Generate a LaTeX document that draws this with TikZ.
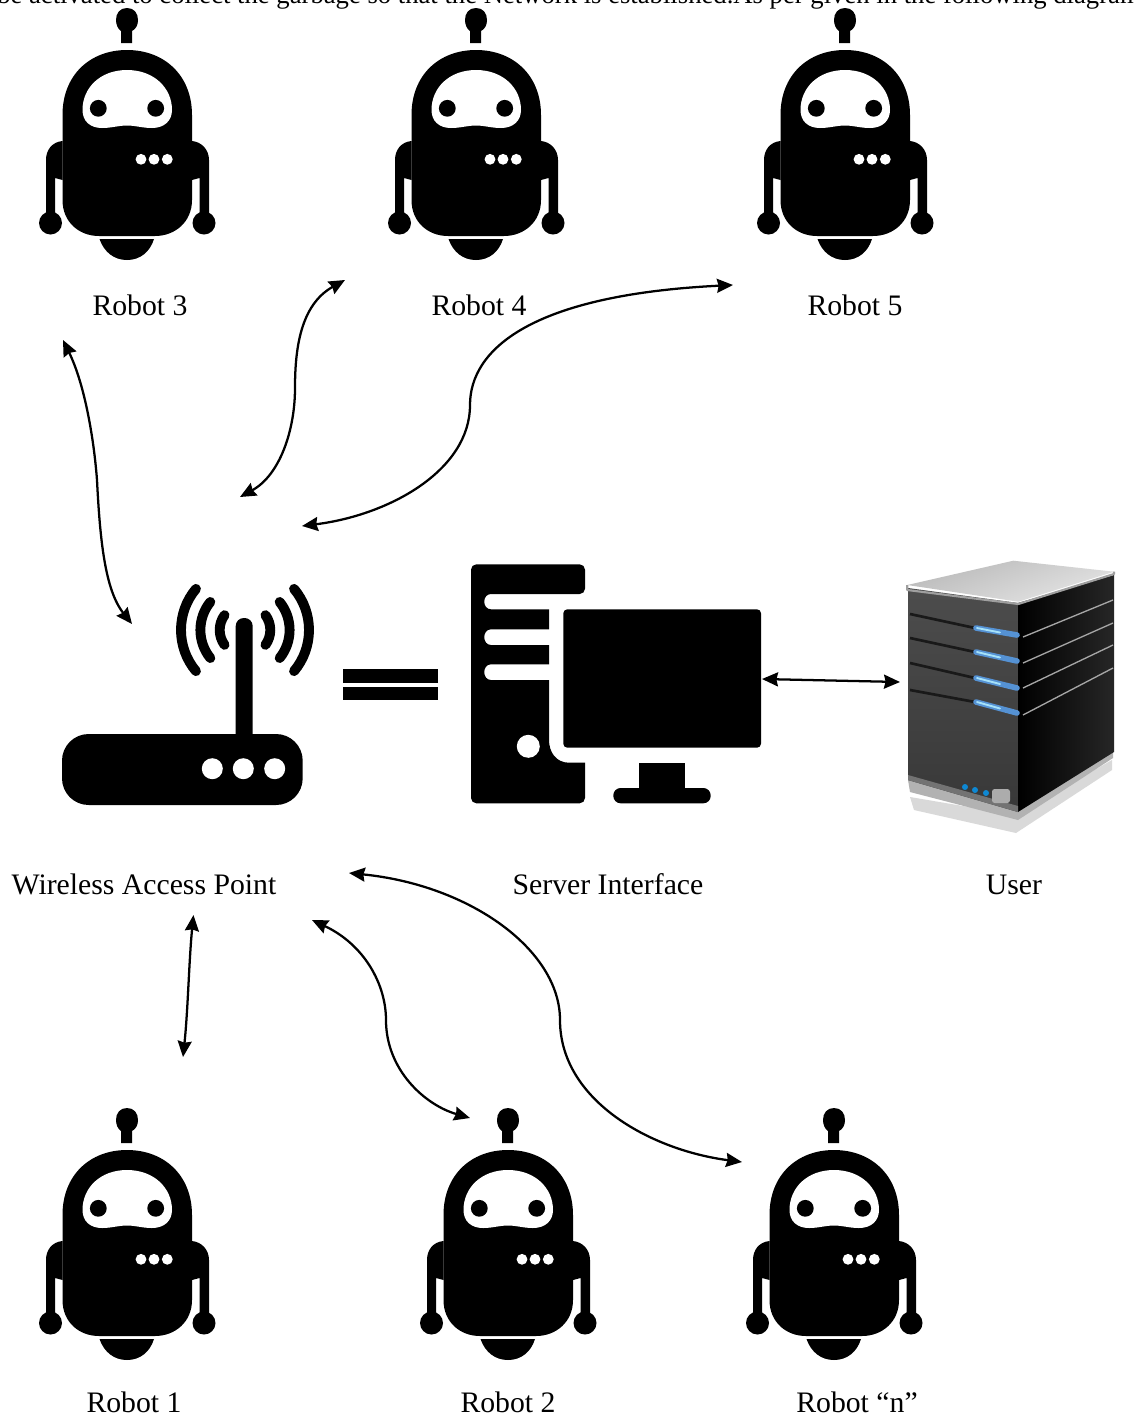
\documentclass[tikz,border=0pt]{standalone}
\usepackage{fontspec}
\setmainfont{Liberation Serif}
\usetikzlibrary{arrows.meta}
\tikzset{
  px/.style={x=0.75pt,y=-0.75pt},
  lbl/.style={font=\fontsize{22.3}{26}\selectfont,inner sep=0pt,anchor=base},
  link/.style={draw=black,line width=1.7pt,{Stealth[length=12pt,width=10.5pt,inset=1.2pt]}-{Stealth[length=12pt,width=10.5pt,inset=1.2pt]}},
  wave/.style={draw=black,line width=7.4pt,line cap=round},
  robot/.pic={
    \fill[black] (127,8) .. controls (120,8) and (116,13) .. (116,20) .. controls (116,25) and (118,29) .. (121,31) -- (121,43) -- (132,43) -- (132,31) .. controls (136,29) and (138,25) .. (138,20) .. controls (138,13) and (134,8) .. (127,8) -- cycle;
    \fill[black] (62.5,115) .. controls (62.5,75) and (90,50) .. (127,50) .. controls (164,50) and (192,75) .. (192,115) -- (192,200) .. controls (192,222) and (175,236) .. (155,236) -- (99,236) .. controls (79,236) and (62.5,222) .. (62.5,200) -- cycle;
    \fill[black] (62.5,141) .. controls (52,142) and (46,150) .. (46,160) -- (46,215) -- (55,215) -- (55,178) -- (62.5,180) -- cycle;
    \fill[black] (192,141) .. controls (202,142) and (209,150) .. (209,160) -- (209,215) -- (199.5,215) -- (199.5,178) -- (192,180) -- cycle;
    \fill[black] (50.5,223) circle[radius=11.5];
    \fill[black] (204,223) circle[radius=11.5];
    \fill[black] (99.5,239) -- (154,239) .. controls (150,252) and (140,260) .. (127,260) .. controls (114,260) and (104,252) .. (99.5,239) -- cycle;
    \fill[white] (127,70) .. controls (100,70) and (82.5,88) .. (82.5,110) .. controls (82.5,121) and (90,128) .. (102,128) .. controls (112,128) and (118,125.5) .. (127,125.5) .. controls (136,125.5) and (142,128) .. (152,128) .. controls (164,128) and (172,121) .. (172,110) .. controls (172,88) and (154,70) .. (127,70) -- cycle;
    \fill[black] (98.3,108.3) circle[radius=8.4];
    \fill[black] (155.7,108.3) circle[radius=8.4];
    \fill[white] (141,159.3) circle[radius=5.4];
    \fill[white] (154,159.3) circle[radius=5.4];
    \fill[white] (167.3,159.3) circle[radius=5.4];
  }
}
\begin{document}
\begin{tikzpicture}[px]
\useasboundingbox (0,0) rectangle (1134,1418);
\clip (0,0) rectangle (1134,1418);
\fill[white] (0,0) rectangle (1134,1418);

\node[font=\fontsize{20}{24}\selectfont,inner sep=0pt,anchor=base west] (intro) at (-3,3) {be activated to collect the garbage so that the Network is established.As per given in the following diagram};

% robots
\pic (r3) at (0,0) {robot};
\pic (r4) at (349,0) {robot};
\pic (r5) at (718,0) {robot};
\pic (r1) at (0,1100) {robot};
\pic (r2) at (381,1100) {robot};
\pic (rn) at (707,1100) {robot};

% labels
\node[lbl] (l3) at (140,315) {Robot 3};
\node[lbl] (l4) at (479,315) {Robot 4};
\node[lbl] (l5) at (855,315) {Robot 5};
\node[lbl] (lw) at (144,894) {Wireless Access Point};
\node[lbl] (ls) at (608,894) {Server Interface};
\node[lbl] (lu) at (1014,894) {User};
\node[lbl] (l1) at (134,1412) {Robot 1};
\node[lbl] (l2) at (508,1412) {Robot 2};
\node[lbl] (ln) at (857,1412) {Robot “n”};

% router
\fill[black,rounded corners=20pt] (62,734) rectangle (302.7,805);
\fill[black,rounded corners=6pt] (235.7,745) -- (235.7,618) -- (252.7,618) -- (252.7,745) -- cycle;
\foreach \xx in {212.3,243.3,274.7} \fill[white] (\xx,768.7) circle[radius=10.5];
\foreach \rr/\aa in {64/40,44.6/39,25.3/36}{
  \draw[wave] ({245-\rr*cos(\aa)},{630-\rr*sin(\aa)}) arc[start angle=180+\aa,end angle=180-\aa,radius=\rr];
  \draw[wave] ({245+\rr*cos(\aa)},{630-\rr*sin(\aa)}) arc[start angle=-\aa,end angle=\aa,radius=\rr];
}
% equals
\fill[black] (343.3,669) rectangle (437.7,682.7);
\fill[black] (343.3,686.7) rectangle (437.7,700);

% computer
\fill[black,rounded corners=4pt] (471,564.3) -- (585,564.3) -- (585,594) [sharp corners] -- (491,594) .. controls (482,594) and (482,609.3) .. (491,609.3) -- (549,609.3) -- (549,629.3) -- (491,629.3) .. controls (482,629.3) and (482,645) .. (491,645) -- (549,645) -- (549,664.3) -- (491,664.3) .. controls (482,664.3) and (482,680) .. (491,680) -- (549,680) -- (549,740) .. controls (549,752) and (556,762.7) .. (569,762.7) -- (585,762.7) [rounded corners=4pt] -- (585,803.3) -- (471,803.3) -- cycle;
\fill[white] (528.3,746.3) circle[radius=11.5];
\fill[black,rounded corners=3pt] (563.3,609.3) rectangle (761,747.7);
\fill[black] (639.3,762.7) rectangle (685,792);
\fill[black,rounded corners=5.5pt] (613.3,788) rectangle (710.7,803.3);

% server
\fill[gray!30] (910,797) -- (914,810) -- (1016,833) -- (1112,770) -- (1112,760) -- (1016,815) -- cycle;
\fill[gray!60] (908,780) -- (910,792) -- (1018,820) -- (1113,758) -- (1113,752) -- cycle;
\shade[top color=black!70,bottom color=black!78] (908,588) -- (1018,603) -- (1018,812) -- (908,780) -- cycle;
\shade[left color=black,right color=black!85] (1018,603) -- (1114,575) -- (1114,752) -- (1018,812) -- cycle;
\fill[black!55] (908,775) -- (1018,806) -- (1018,812) -- (908,780) -- cycle;
\shade[top color=gray!55,bottom color=white!90!black,shading angle=20] (907.3,585) -- (1013.3,560.7) -- (1114,571.7) -- (1018.3,601.7) -- cycle;
\draw[gray!75,line width=1.6pt,line join=round] (907.3,585) -- (907.3,590) -- (1018.3,604) -- (1114,574) -- (1114,571.7);
\foreach \ya/\yb/\yc in {614/628/635,638/652/661,663/678/688,690/702/713}{
  \draw[black!90,line width=2pt] (910,\ya) -- (975,\yb);
  \draw[cyan!55!blue!70,line width=4.2pt,line cap=round] (976,\yb) -- (1017,\yc);
  \draw[cyan!35!white,line width=1.4pt,line cap=round] (977,\yb) -- (1000,{(\yb+\yc)/2+1});
}
\foreach \ya/\yb in {637/600,663/623,688/645,715/668}{
  \draw[gray!70,line width=1pt] (1023,\ya) -- (1113,\yb);
}
\foreach \xx/\yy in {965/787,975/790,986/793}{
  \fill[cyan!70!blue] (\xx,\yy) circle[radius=3];
}
\fill[gray!65,rounded corners=2pt] (992,789) rectangle (1010,803);

% connectors
\coordinate (a1s) at (63,340); \coordinate (a1m) at (97,480); \coordinate (a1e) at (132,624);
\coordinate (a2s) at (345,280); \coordinate (a2m) at (295,388); \coordinate (a2e) at (240,497);
\coordinate (a3s) at (733,285); \coordinate (a3m) at (470,405); \coordinate (a3e) at (302,526);
\coordinate (a4s) at (762,679); \coordinate (a4e) at (900,682);
\coordinate (a5s) at (193.5,915); \coordinate (a5e) at (183,1057);
\coordinate (a6s) at (312,920); \coordinate (a6m) at (386,1020); \coordinate (a6e) at (470,1118);
\coordinate (a7s) at (349,873); \coordinate (a7m) at (560,1020); \coordinate (a7e) at (742,1162);
\draw[link] (a1s) .. controls (85,385) and (94,440) .. (a1m) .. controls (100,540) and (105,590) .. (a1e);
\draw[link] (a2s) .. controls (300,305) and (295,350) .. (a2m) .. controls (295,430) and (280,475) .. (a2e);
\draw[link] (a3s) .. controls (530,295) and (470,350) .. (a3m) .. controls (470,470) and (390,515) .. (a3e);
\draw[link] (a4s) -- (a4e);
\draw[link] (a5s) .. controls (189,960) and (188,1010) .. (a5e);
\draw[link] (a6s) .. controls (365,945) and (386,985) .. (a6m) .. controls (386,1070) and (425,1105) .. (a6e);
\draw[link] (a7s) .. controls (470,885) and (560,950) .. (a7m) .. controls (560,1100) and (650,1150) .. (a7e);
\end{tikzpicture}
\end{document}
